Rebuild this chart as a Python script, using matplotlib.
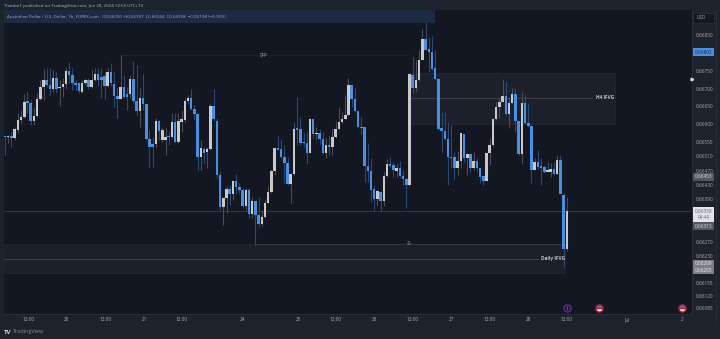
import matplotlib
matplotlib.use('Agg')
import matplotlib.pyplot as plt
from matplotlib.patches import Rectangle
import numpy as np

plt.rcParams['font.family'] = ['Open Sans', 'DejaVu Sans']

# AUD/USD 1h candles, prices in 1e-5 units
opens = [66567, 66564, 66567, 66561, 66584, 66612, 66620, 66663, 66661, 66610, 66624, 66671, 66704, 66724, 66709, 66698,
         66731, 66701, 66705, 66713, 66749, 66738, 66717, 66715, 66691, 66715, 66724, 66704, 66724, 66741, 66733, 66735,
         66707, 66746, 66713, 66679, 66670, 66704, 66684, 66684, 66727, 66665, 66638, 66673, 66657, 66558, 66545, 66545,
         66610, 66556, 66556, 66568, 66564, 66607, 66551, 66607, 66612, 66665, 66675, 66642, 66628, 66509, 66531, 66522,
         66531, 66652, 66609, 66458, 66368, 66394, 66419, 66405, 66441, 66425, 66416, 66371, 66416, 66349, 66385, 66346,
         66320, 66340, 66381, 66410, 66469, 66535, 66530, 66509, 66491, 66432, 66460, 66589, 66586, 66551, 66549, 66521,
         66614, 66573, 66575, 66559, 66519, 66542, 66536, 66565, 66588, 66607, 66614, 66626, 66710, 66670, 66638, 66593,
         66592, 66483, 66470, 66418, 66390, 66411, 66386, 66455, 66488, 66486, 66470, 66479, 66455, 66446, 66430, 66738,
         66701, 66724, 66780, 66838, 66810, 66803, 66757, 66727, 66589, 66582, 66558, 66509, 66509, 66479, 66497, 66574,
         66507, 66516, 66479, 66497, 66477, 66455, 66441, 66519, 66542, 66614, 66649, 66663, 66680, 66628, 66659, 66685,
         66609, 66516, 66661, 66603, 66596, 66472, 66495, 66481, 66481, 66467, 66467, 66474, 66462, 66501, 66403, 66250]
highs = [66570, 66570, 66579, 66593, 66631, 66640, 66685, 66694, 66668, 66649, 66687, 66724, 66754, 66757, 66757, 66752,
         66747, 66724, 66729, 66757, 66775, 66757, 66724, 66719, 66724, 66729, 66729, 66752, 66757, 66757, 66757, 66747,
         66757, 66771, 66747, 66701, 66794, 66738, 66705, 66738, 66778, 66766, 66701, 66741, 66659, 66584, 66565, 66617,
         66612, 66593, 66589, 66579, 66631, 66631, 66633, 66640, 66673, 66682, 66698, 66654, 66631, 66556, 66537, 66537,
         66659, 66698, 66617, 66470, 66397, 66427, 66430, 66444, 66461, 66437, 66421, 66421, 66421, 66397, 66385, 66397,
         66360, 66388, 66427, 66474, 66535, 66568, 66558, 66542, 66509, 66463, 66607, 66677, 66621, 66575, 66579, 66617,
         66614, 66592, 66586, 66579, 66561, 66567, 66586, 66610, 66649, 66635, 66682, 66729, 66710, 66701, 66638, 66621,
         66593, 66547, 66505, 66430, 66416, 66414, 66467, 66502, 66508, 66495, 66493, 66498, 66472, 66449, 66743, 66789,
         66780, 66808, 66867, 66887, 66845, 66848, 66808, 66729, 66635, 66635, 66606, 66598, 66525, 66525, 66575, 66574,
         66519, 66519, 66522, 66505, 66479, 66458, 66523, 66561, 66617, 66662, 66677, 66727, 66719, 66677, 66703, 66701,
         66609, 66690, 66682, 66659, 66598, 66507, 66528, 66505, 66486, 66494, 66491, 66494, 66514, 66514, 66409, 66397]
lows = [66514, 66547, 66537, 66556, 66575, 66601, 66617, 66631, 66598, 66598, 66621, 66668, 66668, 66704, 66682, 66691,
        66687, 66651, 66677, 66698, 66715, 66696, 66696, 66689, 66689, 66709, 66698, 66701, 66721, 66707, 66673, 66670,
        66704, 66707, 66649, 66617, 66670, 66673, 66640, 66673, 66659, 66626, 66592, 66640, 66556, 66481, 66481, 66537,
        66556, 66551, 66514, 66542, 66561, 66547, 66547, 66579, 66607, 66659, 66640, 66612, 66472, 66472, 66491, 66477,
        66528, 66610, 66450, 66360, 66318, 66352, 66374, 66388, 66405, 66407, 66369, 66360, 66337, 66337, 66262, 66313,
        66315, 66337, 66379, 66407, 66458, 66528, 66505, 66437, 66430, 66381, 66458, 66542, 66542, 66537, 66489, 66519,
        66561, 66556, 66545, 66517, 66505, 66514, 66514, 66561, 66584, 66605, 66614, 66626, 66649, 66635, 66592, 66573,
        66439, 66439, 66383, 66360, 66374, 66355, 66371, 66452, 66481, 66452, 66453, 66452, 66430, 66365, 66427, 66687,
        66690, 66721, 66780, 66808, 66746, 66752, 66724, 66584, 66523, 66556, 66430, 66477, 66447, 66458, 66479, 66495,
        66458, 66467, 66472, 66467, 66435, 66430, 66440, 66486, 66540, 66612, 66617, 66662, 66626, 66589, 66659, 66578,
        66514, 66491, 66600, 66593, 66435, 66472, 66475, 66430, 66463, 66466, 66453, 66458, 66460, 66405, 66200, 66244]
closes = [66564, 66567, 66562, 66586, 66612, 66620, 66663, 66661, 66610, 66624, 66671, 66704, 66724, 66709, 66698, 66731,
          66698, 66705, 66713, 66749, 66738, 66717, 66711, 66692, 66717, 66724, 66704, 66724, 66741, 66724, 66724, 66707,
          66746, 66715, 66679, 66670, 66704, 66677, 66676, 66727, 66665, 66638, 66673, 66657, 66558, 66537, 66537, 66610,
          66582, 66584, 66564, 66564, 66607, 66551, 66610, 66614, 66666, 66675, 66642, 66628, 66509, 66533, 66521, 66531,
          66652, 66614, 66458, 66368, 66394, 66419, 66405, 66441, 66424, 66416, 66371, 66416, 66349, 66385, 66346, 66320,
          66340, 66381, 66410, 66469, 66535, 66528, 66509, 66491, 66432, 66460, 66588, 66584, 66547, 66547, 66521, 66614,
          66573, 66575, 66559, 66519, 66542, 66536, 66565, 66588, 66607, 66614, 66626, 66710, 66670, 66638, 66593, 66589,
          66483, 66470, 66416, 66390, 66414, 66386, 66455, 66488, 66483, 66472, 66479, 66455, 66446, 66430, 66741, 66701,
          66724, 66780, 66838, 66808, 66803, 66755, 66727, 66587, 66582, 66558, 66509, 66505, 66479, 66497, 66575, 66505,
          66516, 66479, 66497, 66477, 66453, 66441, 66521, 66542, 66614, 66649, 66663, 66680, 66628, 66659, 66685, 66609,
          66516, 66661, 66603, 66596, 66472, 66495, 66480, 66479, 66466, 66472, 66474, 66462, 66501, 66405, 66250, 66358]

time_ticks = [7.5, 19.3, 31.5, 43.3, 55.1, 74.1, 91.3, 103.1, 115, 127.1, 139, 151, 163, 175, 193.8, 210.9]
time_labels = ['12:00', '20', '12:00', '21', '12:00', '24', '25', '12:00', '26', '12:00', '27', '12:00', '28', '12:00', 'Jul', '2']
price_ticks = [66850, 66750, 66700, 66650, 66600, 66550, 66510, 66470, 66430, 66390, 66270, 66230, 66155, 66120, 66085]

BG = '#131722'
PANEL = '#1e222d'
UP = '#c9c9c9'
DOWN = '#4a90e2'
UP_WICK = '#4a4d55'
DOWN_WICK = '#2a4a74'
TEXT = '#a9adb6'

fig = plt.figure(figsize=(7.2, 3.39), dpi=100, facecolor=PANEL)
ax = fig.add_axes([4 / 720, 25 / 339, 688 / 720, 304 / 339], facecolor=BG)
ax.set_xlim(-0.31, 214.0)
ax.set_ylim(66069, 66920)

idx = np.arange(len(opens))
o, h, l, c = map(np.array, (opens, highs, lows, closes))
is_up = c >= o

# zones go under the candles
ax.add_patch(Rectangle((126, 66602), 64, 142, fc='#1c202b', ec='#22262f', lw=0.6, zorder=1))
ax.add_patch(Rectangle((-0.31, 66183), 174.9, 82, fc='#1c202b', ec='#22262f', lw=0.6, zorder=1))
ax.plot([126, 183], [66674, 66674], color='#3a3d46', lw=0.8, zorder=2)
ax.plot([-0.31, 166], [66224, 66224], color='#3a3d46', lw=0.8, zorder=2)
ax.plot([36, 126], [66793, 66793], color='#2a1f2e', lw=0.7, zorder=2)
ax.plot([78, 174.6], [66265, 66265], color='#33352e', lw=0.8, zorder=2)
ax.axhline(66358, color='#33363f', lw=0.7, zorder=2)

ax.vlines(idx[is_up], l[is_up], h[is_up], color=UP_WICK, lw=0.8, zorder=3)
ax.vlines(idx[~is_up], l[~is_up], h[~is_up], color=DOWN_WICK, lw=0.8, zorder=3)
ax.bar(idx, np.maximum(np.abs(c - o), 3), bottom=np.minimum(o, c), width=0.78,
       color=[UP if u else DOWN for u in is_up], linewidth=0, zorder=4)

ax.text(80.5, 66793, 'SFP', color=TEXT, fontsize=3.3, ha='center', va='center', zorder=5)
ax.text(126, 66265, '-S-', color=TEXT, fontsize=3.4, ha='center', va='center', zorder=5)
ax.text(184, 66674, 'H4 IFVG', color='#c2c5cc', fontsize=3.4, fontweight='bold', ha='left', va='center', zorder=5)
ax.text(167, 66224, 'Daily IFVG', color='#c2c5cc', fontsize=3.4, fontweight='bold', ha='left', va='center', zorder=5)

# event markers above the time axis
ax.plot([175], [66085], 'o', ms=5.2, mfc='#241a33', mec='#7b2f9e', mew=0.7, zorder=5)
ax.plot([175], [66085], '|', ms=2.2, color='#9c4fc0', mew=0.5, zorder=6)
for ev in [185, 211]:
    ax.plot([ev], [66085], 'o', ms=5.2, fillstyle='top', mfc='#3f7fd6', mfcalt='#e8e8e8',
            mec='#b3202c', mew=1.0, zorder=5)

for name, spine in ax.spines.items():
    spine.set_color('#2a2e39')
    spine.set_linewidth(0.7)
    spine.set_visible(name in ('right', 'bottom'))

ax.set_xticks(time_ticks)
ax.set_xticklabels(time_labels)
ax.tick_params(axis='x', length=0, pad=2.2, labelsize=3.4, labelcolor=TEXT)
ax.yaxis.tick_right()
ax.set_yticks(price_ticks)
ax.set_yticklabels(['0.%05d' % p for p in price_ticks])
ax.tick_params(axis='y', length=0, pad=2.6, labelsize=3.4, labelcolor=TEXT)

# price badges on the scale
def badge(price, text, fc, tc, dy=0):
    ax.annotate(text, xy=(1, price), xycoords=('axes fraction', 'data'), xytext=(8.4, dy),
                textcoords='offset points', color=tc, fontsize=3.4, ha='center', va='center', zorder=7,
                annotation_clip=False, bbox=dict(boxstyle='square,pad=0.38', fc=fc, ec='none'))

badge(66802, '0.66802', '#4a90e2', '#10233f')
badge(66453, '0.66453', '#55585f', '#e2e3e6')
badge(66315, '0.66315', '#55585f', '#e2e3e6')
badge(66209, '0.66209', '#7c7f86', '#eceded')
badge(66205, '0.66205', '#7c7f86', '#eceded', dy=-3.4)
badge(66358, '0.66358\n04:48', '#e0e3eb', '#666a73', dy=-2.6)
ax.plot([1.0], [66728], '>', ms=2, color='#d8d8d8', transform=ax.get_yaxis_transform(), clip_on=False, zorder=7)

# chrome drawn in pixel coordinates
top = fig.add_axes([0, 0, 1, 1], facecolor='none')
top.set_xlim(0, 720)
top.set_ylim(339, 0)
top.axis('off')
top.add_patch(Rectangle((4, 10), 431, 13, fc='#1c2a42', ec='none'))
top.add_patch(Rectangle((693, 12.5), 21, 10, fc=BG, ec='#2a2e39', lw=0.6))
top.plot([716, 716], [10, 325], color='#2a2e39', lw=0.6)
top.text(701, 17.5, 'USD', color=TEXT, fontsize=3.4, ha='center', va='center')
top.text(4, 5.5, 'Tlambo1 published on TradingView.com, Jun 28, 2024 12:55 UTC+10', color='#b2b5be',
         fontsize=3.2, ha='left', va='center')
top.text(7, 16.3, 'Australian Dollar / U.S. Dollar, 1h, FOREX.com   O0.66250  H0.66397  L0.66244  C0.66358  '
         '\u22120.00108 (\u22120.16%)', color='#a9adb6', fontsize=3.2, ha='left', va='center')
top.text(4, 332, 'TV', color='#d8d9dd', fontsize=4.4, fontweight='bold', ha='left', va='center')
top.text(13, 332, 'TradingView', color='#8b8e96', fontsize=4.0, ha='left', va='center')

fig.savefig('out.png', dpi=100, facecolor=PANEL)
